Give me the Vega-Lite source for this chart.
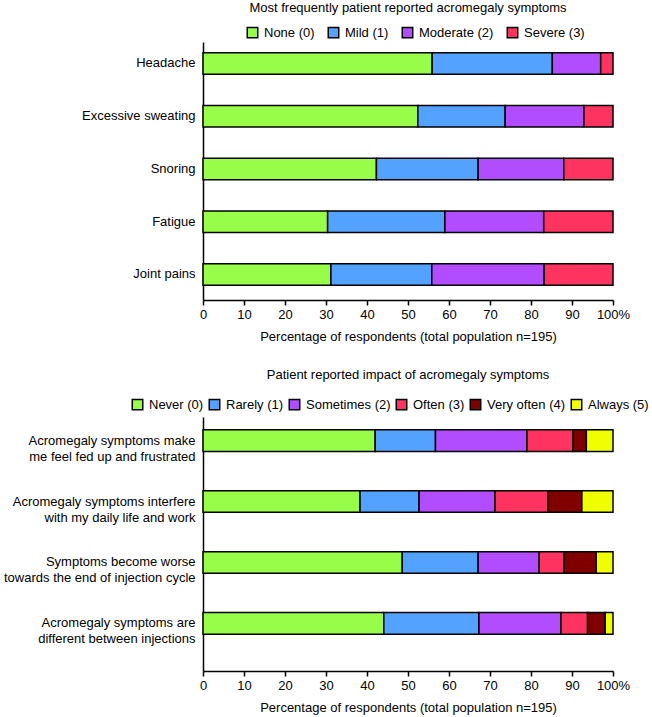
{
  "$schema": "https://vega.github.io/schema/vega-lite/v6.json",
  "padding": {"left": 3, "top": 2, "right": 0, "bottom": 2},
  "spacing": 26,
  "config": {
    "font": "Liberation Sans",
    "view": {"stroke": null},
    "title": {"fontSize": 13, "fontWeight": "normal", "color": "black", "anchor": "middle"},
    "axisX": {
      "domainColor": "black", "domainWidth": 1.5, "tickColor": "black", "tickWidth": 1.5, "tickSize": 5,
      "labelFontSize": 13, "labelColor": "black", "labelPadding": 3, "labelFlush": false, "labelOverlap": false,
      "titleFontSize": 13, "titleFontWeight": "normal", "titleColor": "black", "titlePadding": 9, "grid": false
    },
    "axisY": {
      "domainColor": "black", "domainWidth": 1.5, "ticks": false, "labelFontSize": 13, "labelColor": "black",
      "labelPadding": 8, "labelLineHeight": 16, "labelLimit": 300, "minExtent": 195, "maxExtent": 195, "grid": false
    },
    "legend": {
      "orient": "none", "direction": "horizontal", "title": null, "symbolType": "square", "symbolSize": 110,
      "symbolStrokeColor": "black", "symbolStrokeWidth": 1.5, "labelFontSize": 13, "labelColor": "black",
      "labelOffset": 5, "symbolOpacity": 1
    }
  },
  "resolve": {"scale": {"color": "independent", "y": "independent", "x": "independent"}, "legend": {"color": "independent"}},
  "vconcat": [
    {
      "width": 410,
      "height": 258,
      "title": {"text": "Most frequently patient reported acromegaly symptoms", "offset": 11},
      "data": {"values": [
        {"symptom": "Headache", "severity": "None (0)", "k": 0, "pct": 55.9},
        {"symptom": "Headache", "severity": "Mild (1)", "k": 1, "pct": 29.3},
        {"symptom": "Headache", "severity": "Moderate (2)", "k": 2, "pct": 11.8},
        {"symptom": "Headache", "severity": "Severe (3)", "k": 3, "pct": 3.0},
        {"symptom": "Excessive sweating", "severity": "None (0)", "k": 0, "pct": 52.4},
        {"symptom": "Excessive sweating", "severity": "Mild (1)", "k": 1, "pct": 21.3},
        {"symptom": "Excessive sweating", "severity": "Moderate (2)", "k": 2, "pct": 19.2},
        {"symptom": "Excessive sweating", "severity": "Severe (3)", "k": 3, "pct": 7.1},
        {"symptom": "Snoring", "severity": "None (0)", "k": 0, "pct": 42.3},
        {"symptom": "Snoring", "severity": "Mild (1)", "k": 1, "pct": 24.8},
        {"symptom": "Snoring", "severity": "Moderate (2)", "k": 2, "pct": 20.9},
        {"symptom": "Snoring", "severity": "Severe (3)", "k": 3, "pct": 12.0},
        {"symptom": "Fatigue", "severity": "None (0)", "k": 0, "pct": 30.4},
        {"symptom": "Fatigue", "severity": "Mild (1)", "k": 1, "pct": 28.6},
        {"symptom": "Fatigue", "severity": "Moderate (2)", "k": 2, "pct": 24.1},
        {"symptom": "Fatigue", "severity": "Severe (3)", "k": 3, "pct": 16.9},
        {"symptom": "Joint pains", "severity": "None (0)", "k": 0, "pct": 31.2},
        {"symptom": "Joint pains", "severity": "Mild (1)", "k": 1, "pct": 24.6},
        {"symptom": "Joint pains", "severity": "Moderate (2)", "k": 2, "pct": 27.4},
        {"symptom": "Joint pains", "severity": "Severe (3)", "k": 3, "pct": 16.8}
      ]},
      "mark": {"type": "bar", "stroke": "black", "strokeWidth": 1.5},
      "encoding": {
        "y": {
          "field": "symptom", "type": "nominal",
          "sort": ["Headache", "Excessive sweating", "Snoring", "Fatigue", "Joint pains"],
          "scale": {"paddingInner": 0.59, "paddingOuter": 0.24, "align": 0.42},
          "axis": {"title": null}
        },
        "x": {
          "field": "pct", "type": "quantitative", "stack": "zero",
          "scale": {"domain": [0, 100], "nice": false},
          "axis": {
            "title": "Percentage of respondents (total population n=195)",
            "values": [0, 10, 20, 30, 40, 50, 60, 70, 80, 90, 100],
            "labelExpr": "datum.value == 100 ? '100%' : datum.label"
          }
        },
        "color": {
          "field": "severity", "type": "nominal",
          "scale": {
            "domain": ["None (0)", "Mild (1)", "Moderate (2)", "Severe (3)"],
            "range": ["#97FD48", "#54A2FF", "#B24CFF", "#FF335F"]
          },
          "legend": {"legendX": 43, "legendY": -16, "columnPadding": 10}
        },
        "order": {"field": "k", "type": "quantitative"}
      }
    },
    {
      "width": 410,
      "height": 254,
      "title": {"text": "Patient reported impact of acromegaly symptoms", "offset": 16},
      "data": {"values": [
        {"statement": "Acromegaly symptoms make|me feel fed up and frustrated", "freq": "Never (0)", "k": 0, "pct": 42.0},
        {"statement": "Acromegaly symptoms make|me feel fed up and frustrated", "freq": "Rarely (1)", "k": 1, "pct": 14.7},
        {"statement": "Acromegaly symptoms make|me feel fed up and frustrated", "freq": "Sometimes (2)", "k": 2, "pct": 22.3},
        {"statement": "Acromegaly symptoms make|me feel fed up and frustrated", "freq": "Often (3)", "k": 3, "pct": 11.2},
        {"statement": "Acromegaly symptoms make|me feel fed up and frustrated", "freq": "Very often (4)", "k": 4, "pct": 3.3},
        {"statement": "Acromegaly symptoms make|me feel fed up and frustrated", "freq": "Always (5)", "k": 5, "pct": 6.5},
        {"statement": "Acromegaly symptoms interfere|with my daily life and work", "freq": "Never (0)", "k": 0, "pct": 38.3},
        {"statement": "Acromegaly symptoms interfere|with my daily life and work", "freq": "Rarely (1)", "k": 1, "pct": 14.4},
        {"statement": "Acromegaly symptoms interfere|with my daily life and work", "freq": "Sometimes (2)", "k": 2, "pct": 18.5},
        {"statement": "Acromegaly symptoms interfere|with my daily life and work", "freq": "Often (3)", "k": 3, "pct": 12.9},
        {"statement": "Acromegaly symptoms interfere|with my daily life and work", "freq": "Very often (4)", "k": 4, "pct": 8.3},
        {"statement": "Acromegaly symptoms interfere|with my daily life and work", "freq": "Always (5)", "k": 5, "pct": 7.6},
        {"statement": "Symptoms become worse|towards the end of injection cycle", "freq": "Never (0)", "k": 0, "pct": 48.6},
        {"statement": "Symptoms become worse|towards the end of injection cycle", "freq": "Rarely (1)", "k": 1, "pct": 18.5},
        {"statement": "Symptoms become worse|towards the end of injection cycle", "freq": "Sometimes (2)", "k": 2, "pct": 14.9},
        {"statement": "Symptoms become worse|towards the end of injection cycle", "freq": "Often (3)", "k": 3, "pct": 6.1},
        {"statement": "Symptoms become worse|towards the end of injection cycle", "freq": "Very often (4)", "k": 4, "pct": 7.8},
        {"statement": "Symptoms become worse|towards the end of injection cycle", "freq": "Always (5)", "k": 5, "pct": 4.1},
        {"statement": "Acromegaly symptoms are|different between injections", "freq": "Never (0)", "k": 0, "pct": 44.1},
        {"statement": "Acromegaly symptoms are|different between injections", "freq": "Rarely (1)", "k": 1, "pct": 23.2},
        {"statement": "Acromegaly symptoms are|different between injections", "freq": "Sometimes (2)", "k": 2, "pct": 20.0},
        {"statement": "Acromegaly symptoms are|different between injections", "freq": "Often (3)", "k": 3, "pct": 6.5},
        {"statement": "Acromegaly symptoms are|different between injections", "freq": "Very often (4)", "k": 4, "pct": 4.3},
        {"statement": "Acromegaly symptoms are|different between injections", "freq": "Always (5)", "k": 5, "pct": 1.9}
      ]},
      "mark": {"type": "bar", "stroke": "black", "strokeWidth": 1.5},
      "encoding": {
        "y": {
          "field": "statement", "type": "nominal",
          "sort": [
            "Acromegaly symptoms make|me feel fed up and frustrated",
            "Acromegaly symptoms interfere|with my daily life and work",
            "Symptoms become worse|towards the end of injection cycle",
            "Acromegaly symptoms are|different between injections"
          ],
          "scale": {"paddingInner": 0.644, "paddingOuter": 0.405, "align": 0.257},
          "axis": {"title": null, "labelExpr": "split(datum.label, '|')"}
        },
        "x": {
          "field": "pct", "type": "quantitative", "stack": "zero",
          "scale": {"domain": [0, 100], "nice": false},
          "axis": {
            "title": "Percentage of respondents (total population n=195)",
            "values": [0, 10, 20, 30, 40, 50, 60, 70, 80, 90, 100],
            "labelExpr": "datum.value == 100 ? '100%' : datum.label"
          }
        },
        "color": {
          "field": "freq", "type": "nominal",
          "scale": {
            "domain": ["Never (0)", "Rarely (1)", "Sometimes (2)", "Often (3)", "Very often (4)", "Always (5)"],
            "range": ["#97FD48", "#54A2FF", "#B24CFF", "#FF335F", "#800000", "#F0FF00"]
          },
          "legend": {"legendX": -72, "legendY": -19, "columnPadding": 2}
        },
        "order": {"field": "k", "type": "quantitative"}
      }
    }
  ]
}
